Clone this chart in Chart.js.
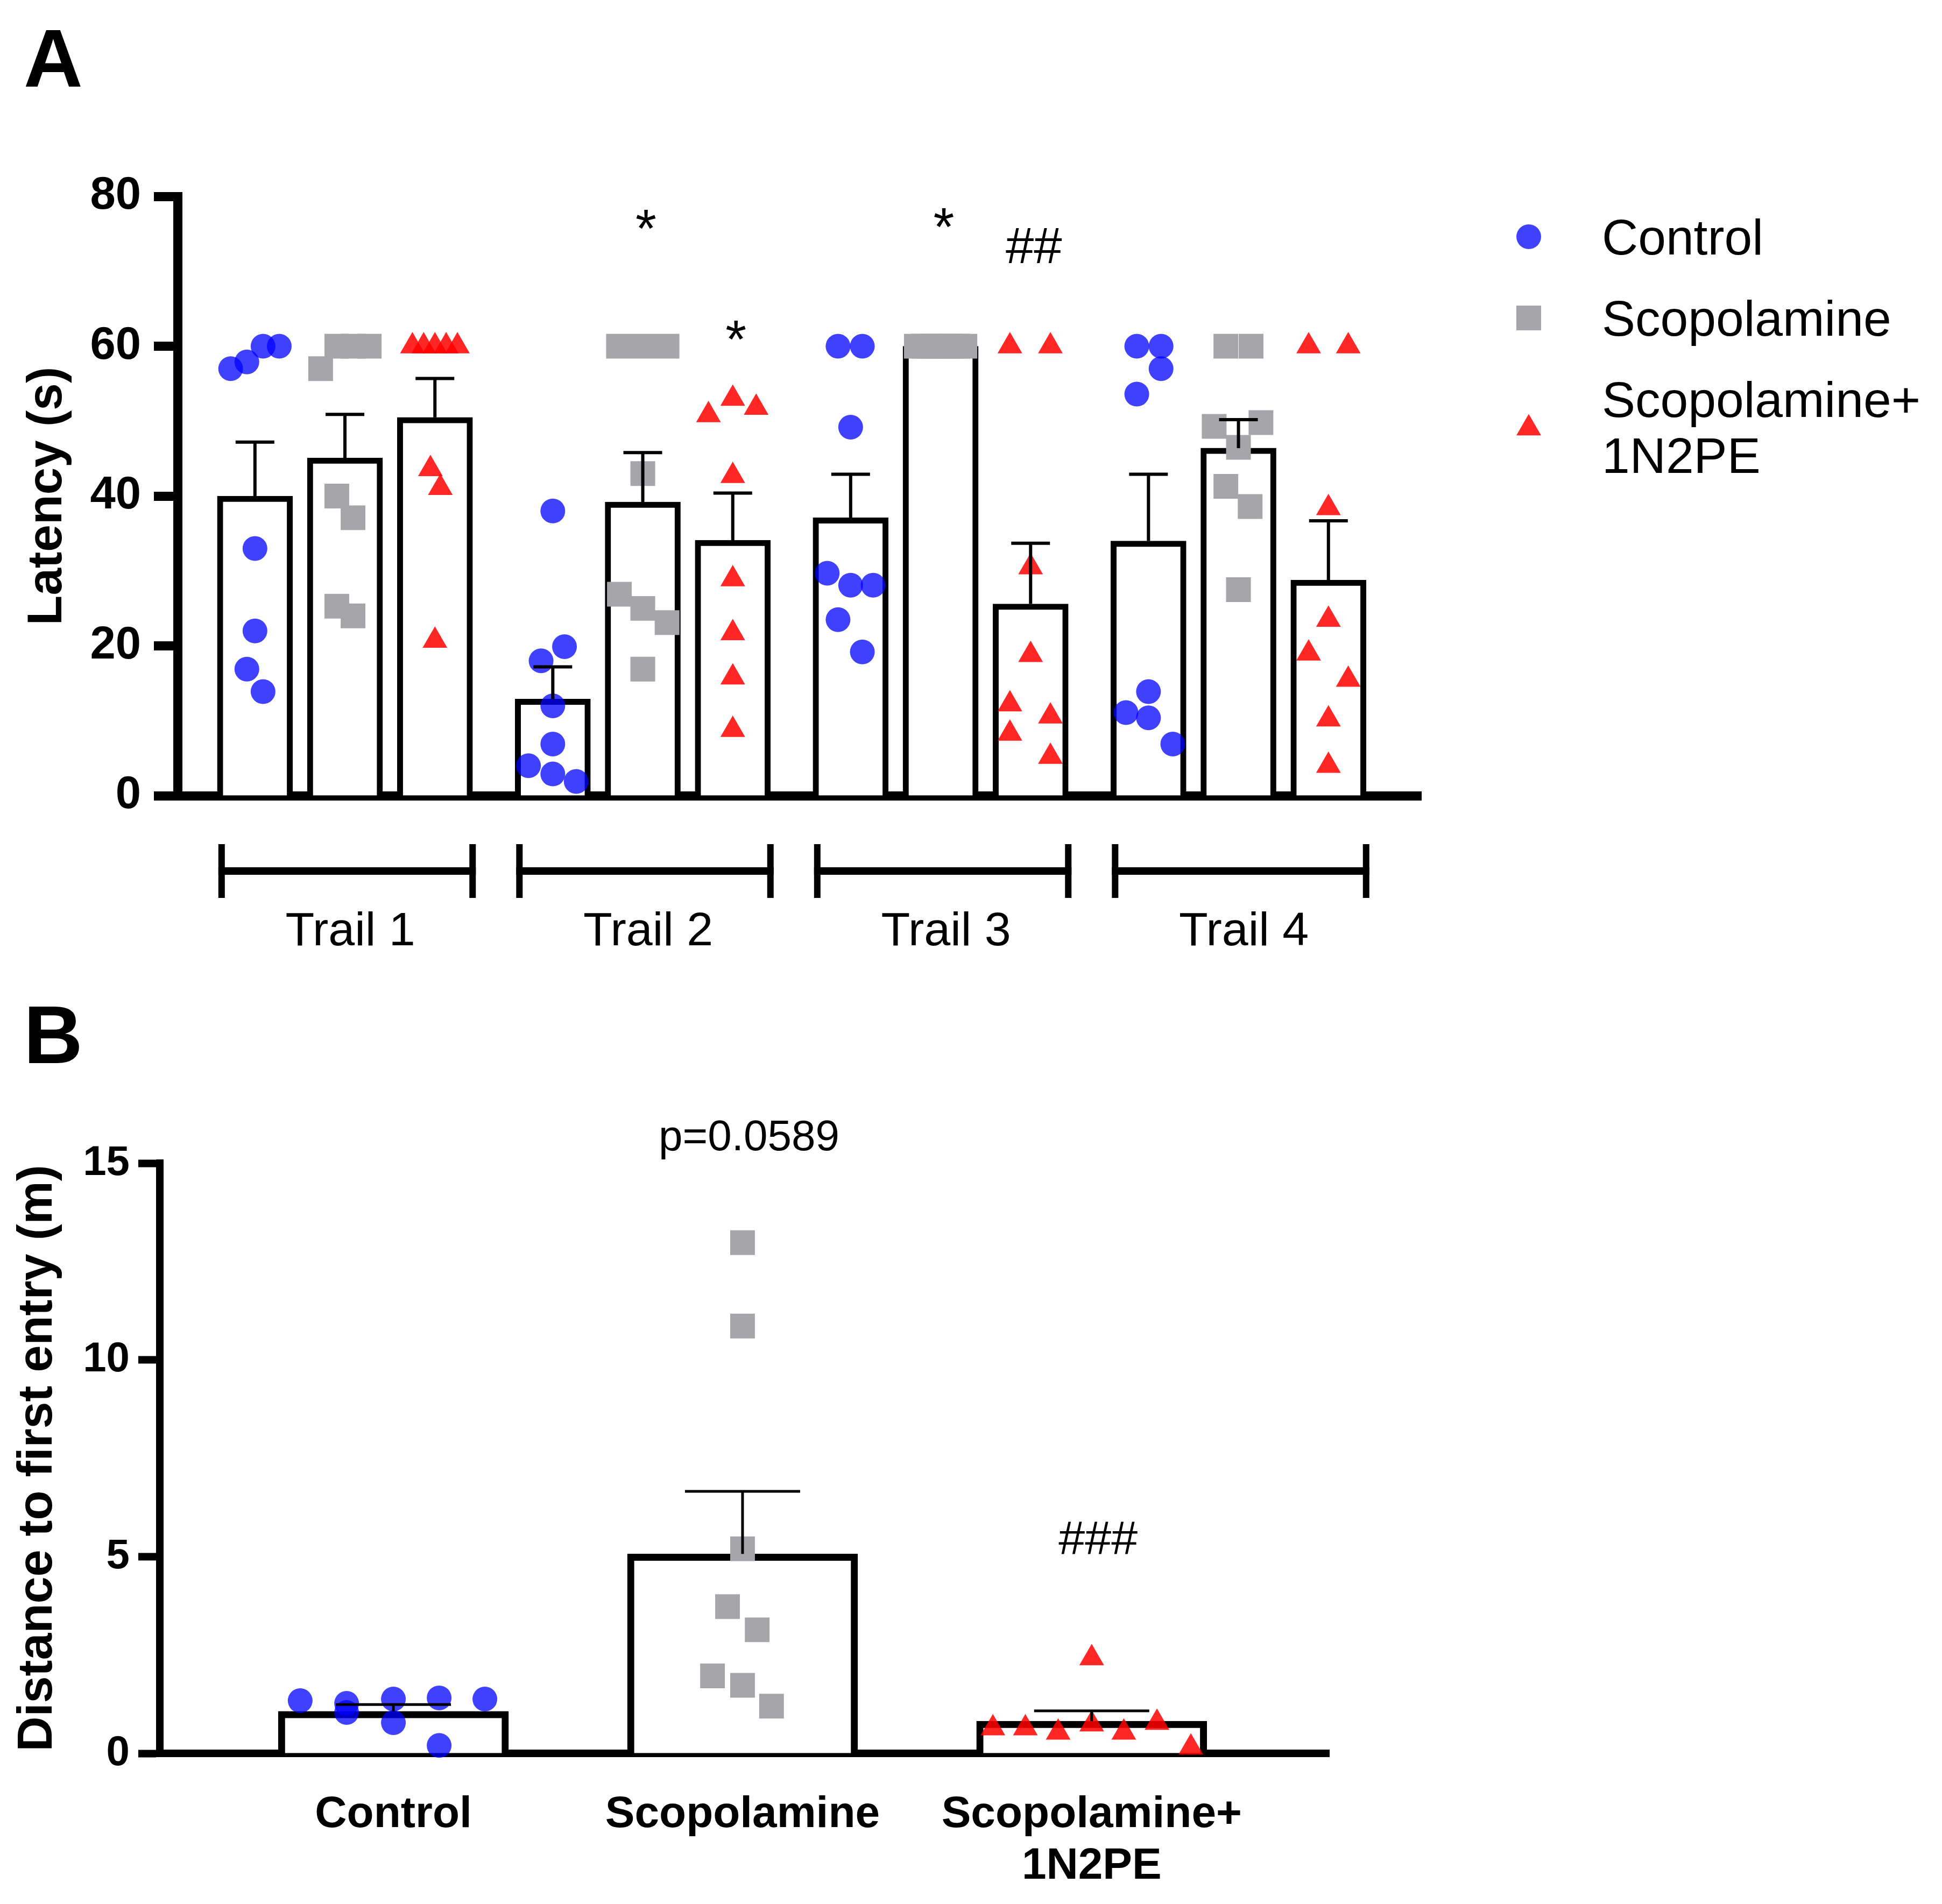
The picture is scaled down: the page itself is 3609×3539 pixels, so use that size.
<!DOCTYPE html>
<html>
<head>
<meta charset="utf-8">
<title>Latency and distance to first entry</title>
<script src="https://cdn.jsdelivr.net/npm/chart.js@4.4.1/dist/chart.umd.min.js"></script>
<style>
    html, body { margin: 0; padding: 0; background: #fff; overflow: hidden; }
    canvas { display: block; position: absolute; left: 0; }
</style>
</head>
<body>
<canvas id="latencyChart" width="3609" height="1860" style="top:0;width:3609px;height:1860px"></canvas>
<canvas id="distanceChart" width="3609" height="1679" style="top:1860px;width:3609px;height:1679px"></canvas>
<script>
// ---------- data ----------
const trailLabels = ['Trail 1', 'Trail 2', 'Trail 3', 'Trail 4'];
const groupNames = ['Control', 'Scopolamine', ['Scopolamine+', '1N2PE']];

const latencyTicks = [0, 20, 40, 60, 80];
const distanceTicks = [0, 5, 10, 15];

// Panel A: bar heights (mean) and SEM per trail
const controlMean = [40.0, 12.9, 37.1, 34.0];
const scopMean = [45.1, 39.2, 60.0, 46.4];
const scopPeMean = [50.5, 34.1, 25.6, 28.8];
const controlSem = [7.2, 4.3, 5.8, 8.9];
const scopSem = [5.8, 6.6, 0, 3.8];
const scopPeSem = [5.2, 6.3, 8.1, 7.9];

// Panel A: individual animals, one row per trail
const controlPoints = [
    [57.0, 57.9, 60, 60, 33.0, 22.0, 16.9, 13.9],
    [38.0, 18.0, 19.9, 12.0, 6.9, 4.0, 2.9, 1.9],
    [60, 60, 49.2, 29.7, 28.1, 28.1, 23.5, 19.2],
    [60, 60, 57.0, 53.6, 13.9, 11.1, 10.4, 6.9]
];
const scopPoints = [
    [60, 60, 60, 57.0, 40.0, 37.1, 25.3, 24.0],
    [60, 60, 60, 43.0, 26.9, 25.0, 23.1, 16.9],
    [60, 60, 60, 60, 60, 60, 60, 60],
    [60, 60, 49.3, 49.8, 46.5, 41.3, 38.6, 27.5]
];
const scopPePoints = [
    [60, 60, 60, 60, 60, 43.6, 41.1, 20.7],
    [50.8, 53.0, 51.8, 42.7, 28.9, 21.7, 15.8, 8.8],
    [60, 60, 30.5, 18.8, 12.2, 10.6, 8.3, 5.2],
    [60, 60, 38.4, 23.5, 19.0, 15.5, 10.2, 4.0]
];
// horizontal scatter of each animal, in bar spacings from the bar centre
const controlSpread = [
    [-0.27, -0.09, 0.09, 0.27, 0, 0, -0.09, 0.09],
    [0, -0.13, 0.13, 0, 0, -0.27, 0, 0.26],
    [-0.14, 0.13, 0, -0.26, 0, 0.25, -0.14, 0.13],
    [-0.13, 0.14, 0.14, -0.13, 0, -0.25, 0, 0.27]
];
const scopSpread = [
    [-0.09, 0.09, 0.27, -0.27, -0.09, 0.09, -0.09, 0.09],
    [-0.27, 0, 0.27, 0, -0.26, 0, 0.27, 0],
    [-0.27, -0.19, -0.11, -0.04, 0.04, 0.11, 0.19, 0.27],
    [-0.14, 0.14, -0.27, 0.25, 0, -0.14, 0.13, 0]
];
const scopPeSpread = [
    [-0.25, -0.125, 0, 0.125, 0.25, -0.05, 0.06, 0],
    [-0.27, 0, 0.26, 0, 0, 0, 0, 0],
    [-0.23, 0.22, 0, 0, -0.23, 0.22, -0.23, 0.22],
    [-0.22, 0.22, 0, 0, -0.22, 0.22, 0, 0]
];

// Panel B: distance to first entry
const distanceMean = [1.07, 5.07, 0.82];
const distanceSem = [0.17, 1.59, 0.26];
const controlDistance = [1.34, 1.27, 1.04, 1.38, 0.78, 1.41, 0.20, 1.38];
const scopDistance = [12.98, 10.86, 5.2, 3.73, 3.14, 1.97, 1.73, 1.2];
const scopPeDistance = [0.64, 0.64, 0.53, 0.74, 0.53, 0.78, 0.15, 2.42];
const controlDistanceSpread = [-0.267, -0.134, -0.134, 0, 0, 0.131, 0.131, 0.262];
const scopDistanceSpread = [0, 0, 0, -0.043, 0.042, -0.086, 0, 0.083];
const scopPeDistanceSpread = [-0.283, -0.19, -0.096, 0, 0.092, 0.187, 0.284, 0];

// significance marks
const latencyMarks = [
    { trail: 1, group: 1, y: 76.9, text: '*' },
    { trail: 1, group: 2, y: 62.1, text: '*' },
    { trail: 2, group: 1, y: 77.1, text: '*' },
    { trail: 2, group: 2, y: 73.4, text: '##' }
];
const distanceMarks = [
    { group: 1, y: 15.6, text: 'p=0.0589' },
    { group: 2, y: 5.48, text: '###' }
];

// ---------- styling ----------
const FONT = "'Liberation Sans', Arial, Helvetica, sans-serif";
const markFontSize = { '*': 100, '##': 94, '###': 88, 'p=0.0589': 80 };

const groupStyle = [
    { color: 'rgba(0, 0, 255, 0.75)', pointStyle: 'circle', radius: 23 },
    { color: '#a6a6aa', pointStyle: 'rect', radius: 32.5 },
    { color: 'rgba(255, 0, 0, 0.85)', pointStyle: 'triangle', radius: 26.5 }
];

const GROUP_PITCH = 3.31;   // distance between trail groups, in bar spacings
function barPos(trail, group) {
    return trail * GROUP_PITCH + group;
}

// ---------- helpers ----------
function barDataset(data, thickness, border) {
    return {
        type: 'bar',
        data: data,
        backgroundColor: '#ffffff',
        borderColor: '#000000',
        borderWidth: border,
        barThickness: thickness,
        grouped: false,
        order: 2
    };
}

function pointDataset(label, rows, spread, posOf, style) {
    const data = [];
    rows.forEach(function(row, i) {
        row.forEach(function(v, k) {
            data.push({ x: posOf(i) + spread[i][k], y: v });
        });
    });
    return {
        type: 'scatter',
        label: label,
        data: data,
        pointStyle: style.pointStyle,
        pointRadius: style.radius,
        pointHoverRadius: style.radius,
        backgroundColor: style.color,
        pointBorderWidth: 0,
        borderWidth: 0,
        clip: false,
        order: 1
    };
}

function drawErrorBars(chart, items, capWidth, lineWidth) {
    const ctx = chart.ctx;
    const x = chart.scales.x;
    const y = chart.scales.y;
    ctx.save();
    ctx.strokeStyle = '#000';
    ctx.lineWidth = lineWidth;
    items.forEach(function(it) {
        if (!it.sem) return;
        const px = x.getPixelForValue(it.x);
        const base = y.getPixelForValue(it.mean);
        const top = y.getPixelForValue(it.mean + it.sem);
        ctx.beginPath();
        ctx.moveTo(px, base);
        ctx.lineTo(px, top);
        ctx.moveTo(px - capWidth / 2, top);
        ctx.lineTo(px + capWidth / 2, top);
        ctx.stroke();
    });
    ctx.restore();
}

// text centred on its ink, not on its baseline
function drawCenteredText(ctx, text, x, yc, font) {
    ctx.font = font;
    ctx.textAlign = 'center';
    ctx.textBaseline = 'alphabetic';
    const m = ctx.measureText(text);
    ctx.fillText(text, x, yc + (m.actualBoundingBoxAscent - m.actualBoundingBoxDescent) / 2);
}

function drawMarker(ctx, style, x, y) {
    ctx.save();
    ctx.fillStyle = style.color;
    if (Chart.helpers && Chart.helpers.drawPoint) {
        Chart.helpers.drawPoint(ctx, { pointStyle: style.pointStyle, radius: style.radius, rotation: 0, borderWidth: 0 }, x, y);
    } else {
        ctx.beginPath();
        ctx.arc(x, y, style.radius, 0, Math.PI * 2);
        ctx.fill();
    }
    ctx.restore();
}

function yAxis(ticks, max, title, o) {
    return {
        min: 0,
        max: max,
        afterBuildTicks: function(scale) {
            scale.ticks = ticks.map(function(v) { return { value: v }; });
        },
        afterFit: function(scale) { scale.width = o.width; },
        ticks: {
            color: '#000',
            padding: o.padding,
            font: { family: FONT, size: o.tickSize, weight: 'bold' }
        },
        grid: {
            display: true,
            drawOnChartArea: false,
            drawTicks: true,
            tickLength: o.tickLength,
            tickWidth: o.line,
            tickColor: '#000',
            color: '#000'
        },
        border: { display: true, color: '#000', width: o.line },
        title: {
            display: true,
            text: title,
            color: '#000',
            font: { family: FONT, size: o.titleSize, weight: 'bold', lineHeight: 1.2 },
            padding: { top: o.titlePad, bottom: 0 }
        }
    };
}

// ---------- Panel A ----------
function initLatencyChart() {
    const canvas = document.getElementById('latencyChart');
    const means = [controlMean, scopMean, scopPeMean];
    const sems = [controlSem, scopSem, scopPeSem];

    const bars = means.map(function(m, g) {
        return barDataset(m.map(function(v, i) { return { x: barPos(i, g), y: v }; }), 140, 11);
    });
    const points = [
        pointDataset('Control', controlPoints, controlSpread, function(i) { return barPos(i, 0); }, groupStyle[0]),
        pointDataset('Scopolamine', scopPoints, scopSpread, function(i) { return barPos(i, 1); }, groupStyle[1]),
        pointDataset('Scopolamine+1N2PE', scopPePoints, scopPeSpread, function(i) { return barPos(i, 2); }, groupStyle[2])
    ];

    const errors = [];
    means.forEach(function(m, g) {
        m.forEach(function(v, i) { errors.push({ x: barPos(i, g), mean: v, sem: sems[g][i] }); });
    });

    const decor = {
        id: 'latencyDecor',
        afterDatasetsDraw: function(chart) {
            drawErrorBars(chart, errors, 72, 6);
        },
        afterDraw: function(chart) {
            const ctx = chart.ctx;
            const x = chart.scales.x;
            const y = chart.scales.y;
            const bottom = chart.chartArea.bottom;
            ctx.save();
            ctx.fillStyle = '#000';
            ctx.strokeStyle = '#000';

            // trail brackets and labels
            trailLabels.forEach(function(label, i) {
                const left = x.getPixelForValue(barPos(i, 0)) - 68;
                const right = x.getPixelForValue(barPos(i, 2)) + 76;
                const by = bottom + 140;
                ctx.lineWidth = 14;
                ctx.beginPath();
                ctx.moveTo(left, by);
                ctx.lineTo(right, by);
                ctx.stroke();
                ctx.lineWidth = 12;
                ctx.beginPath();
                ctx.moveTo(left + 6, by - 50);
                ctx.lineTo(left + 6, by + 50);
                ctx.moveTo(right - 6, by - 50);
                ctx.lineTo(right - 6, by + 50);
                ctx.stroke();
                ctx.font = '88px ' + FONT;
                ctx.textAlign = 'center';
                ctx.textBaseline = 'alphabetic';
                ctx.fillText(label, (left + right) / 2 + 6, bottom + 278);
            });

            // significance marks
            latencyMarks.forEach(function(m) {
                drawCenteredText(ctx, m.text, x.getPixelForValue(barPos(m.trail, m.group)) + 6,
                    y.getPixelForValue(m.y), markFontSize[m.text] + 'px ' + FONT);
            });

            // legend
            const rows = [
                { markerY: 440, baselines: [473] },
                { markerY: 591, baselines: [624] },
                { markerY: 796, baselines: [775, 879] }
            ];
            groupNames.forEach(function(name, g) {
                drawMarker(ctx, groupStyle[g], 2841, rows[g].markerY);
                const lines = Array.isArray(name) ? name : [name];
                ctx.fillStyle = '#000';
                ctx.font = '93px ' + FONT;
                ctx.textAlign = 'left';
                ctx.textBaseline = 'alphabetic';
                lines.forEach(function(line, k) {
                    ctx.fillText(line, 2977, rows[g].baselines[k]);
                });
            });

            // panel letter
            ctx.font = 'bold 152px ' + FONT;
            ctx.textAlign = 'left';
            ctx.fillText('A', 44, 161);
            ctx.restore();
        }
    };

    new Chart(canvas.getContext('2d'), {
        type: 'bar',
        data: { datasets: bars.concat(points) },
        options: {
            responsive: false,
            devicePixelRatio: 1,
            animation: false,
            events: [],
            layout: { padding: { left: 0, top: 365, right: 968, bottom: 361 } },
            plugins: { legend: { display: false }, tooltip: { enabled: false } },
            scales: {
                x: {
                    type: 'linear',
                    offset: false,
                    min: -0.86,
                    max: 12.96,
                    z: 1,
                    afterFit: function(scale) { scale.height = 20; },
                    ticks: { display: false },
                    grid: { display: false, drawTicks: false },
                    border: { display: true, color: '#000', width: 17 }
                },
                y: yAxis(latencyTicks, 80, 'Latency (s)', {
                    width: 330, padding: 24, tickSize: 85, tickLength: 44, line: 17, titleSize: 91, titlePad: 34
                })
            }
        },
        plugins: [decor]
    });
}

// ---------- Panel B ----------
function initDistanceChart() {
    const canvas = document.getElementById('distanceChart');
    const errors = distanceMean.map(function(v, g) { return { x: g, mean: v, sem: distanceSem[g] }; });

    const datasets = [
        barDataset(distanceMean.map(function(v, g) { return { x: g, y: v }; }), 428, 13),
        pointDataset('Control', [controlDistance], [controlDistanceSpread], function() { return 0; }, groupStyle[0]),
        pointDataset('Scopolamine', [scopDistance], [scopDistanceSpread], function() { return 1; }, groupStyle[1]),
        pointDataset('Scopolamine+1N2PE', [scopPeDistance], [scopPeDistanceSpread], function() { return 2; }, groupStyle[2])
    ];

    const decor = {
        id: 'distanceDecor',
        afterDatasetsDraw: function(chart) {
            drawErrorBars(chart, errors, 214, 5);
        },
        afterDraw: function(chart) {
            const ctx = chart.ctx;
            const x = chart.scales.x;
            const y = chart.scales.y;
            ctx.save();
            ctx.fillStyle = '#000';
            distanceMarks.forEach(function(m) {
                drawCenteredText(ctx, m.text, x.getPixelForValue(m.group) + 12,
                    y.getPixelForValue(m.y), markFontSize[m.text] + 'px ' + FONT);
            });
            ctx.font = 'bold 152px ' + FONT;
            ctx.textAlign = 'left';
            ctx.textBaseline = 'alphabetic';
            ctx.fillText('B', 44, 116);
            ctx.restore();
        }
    };

    new Chart(canvas.getContext('2d'), {
        type: 'bar',
        data: { datasets: datasets },
        options: {
            responsive: false,
            devicePixelRatio: 1,
            animation: false,
            events: [],
            layout: { padding: { left: 0, top: 302, right: 1139, bottom: 0 } },
            plugins: { legend: { display: false }, tooltip: { enabled: false } },
            scales: {
                x: {
                    type: 'linear',
                    offset: false,
                    min: -0.669,
                    max: 2.68,
                    z: 1,
                    afterBuildTicks: function(scale) {
                        scale.ticks = groupNames.map(function(n, g) { return { value: g }; });
                    },
                    afterFit: function(scale) { scale.height = 280; },
                    ticks: {
                        color: '#000',
                        autoSkip: false,
                        maxRotation: 0,
                        minRotation: 0,
                        padding: 66,
                        font: { family: FONT, size: 82, weight: 'bold', lineHeight: 1.17 },
                        callback: function(value) { return groupNames[value]; }
                    },
                    grid: { display: false, drawTicks: false },
                    border: { display: true, color: '#000', width: 14 }
                },
                y: yAxis(distanceTicks, 15, 'Distance to first entry (m)', {
                    width: 297, padding: 16, tickSize: 78, tickLength: 40, line: 14, titleSize: 90, titlePad: 17
                })
            }
        },
        plugins: [decor]
    });
}

document.addEventListener('DOMContentLoaded', function() {
    initLatencyChart();
    initDistanceChart();
});
</script>
</body>
</html>
